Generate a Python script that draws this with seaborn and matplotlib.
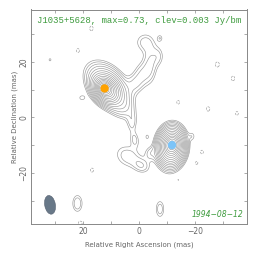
import numpy as np
import matplotlib
matplotlib.use('Agg')
import matplotlib.pyplot as plt
from matplotlib.patches import Ellipse
import seaborn as sns

# source model: gaussian components
# x, y in mas (east = +x), peak in Jy/beam, major/minor sigma in mas, PA in deg (N through E)
comp_x = [12.3, 11.8, 11.0, 6.0,
          1.5, -1.0, -4.0, -2.0, -7.5, -7.0,
          2.5, 1.5, 4.0, -1.0, -4.0,
          -11.8, -11.6, -11.3]
comp_y = [10.4, 10.0, 11.0, 4.0,
          12.0, 15.5, 19.0, 27.0, 28.5, 22.0,
          -2.0, -8.0, -14.0, -17.5, -13.0,
          -10.0, -10.4, -11.0]
comp_flux = [0.42, 0.20, 0.035, 0.006,
             0.0050, 0.0052, 0.0060, 0.0048, 0.0038, 0.0040,
             0.0045, 0.0045, 0.0055, 0.0052, 0.0045,
             0.36, 0.18, 0.028]
comp_maj = [1.3, 2.5, 5.0, 3.5,
            2.5, 3.0, 4.5, 2.5, 1.0, 2.5,
            2.5, 2.0, 3.5, 2.2, 1.8,
            1.5, 3.0, 4.2]
comp_min = [1.1, 1.9, 3.2, 2.5,
            2.0, 2.0, 1.8, 2.5, 0.8, 1.5,
            1.3, 1.2, 2.8, 1.8, 1.4,
            1.2, 2.2, 2.7]
comp_pa = [40, 40, 40, 40,
           0, 0, 0, 0, 0, 0,
           0, 10, 60, 60, 0,
           -10, -5, -5]

# small noise patches (negative -> dashed, positive -> solid)
noise_x = [21.8, 17.0, -28.0, -33.6, -14.0, -24.7, -35.0, -22.5, -20.6, 16.8, -14.0, 21.0,
           31.8, 20.4, -19.0, 22.0, -7.5, -2.9]
noise_y = [24.0, 32.0, 19.0, 14.0, 5.4, 3.0, 1.4, -12.5, -16.4, -19.0, -22.5, -38.0,
           20.7, 7.0, -6.8, -31.0, -33.0, -7.0]
noise_flux = [-0.0036, -0.0036, -0.0037, -0.0036, -0.0035, -0.0036, -0.0035, -0.0035, -0.0035,
              -0.0035, -0.0034, -0.0036, 0.0033, 0.0036, 0.0034, 0.0060, 0.0055, 0.0034]
noise_sx = [1.0, 1.0, 1.1, 1.0, 0.9, 1.0, 0.9, 0.9, 0.8, 1.0, 0.8, 1.2,
            0.8, 1.1, 0.9, 1.4, 1.2, 0.7]
noise_sy = [1.3, 1.4, 1.4, 1.4, 1.2, 1.3, 1.2, 1.2, 1.0, 1.3, 1.0, 1.2,
            0.9, 0.9, 1.2, 2.4, 2.4, 1.0]

clev = 0.003
level_steps = [-1, 1, 1.41, 2, 2.83, 4, 5.66, 8, 11.3, 16, 22.6, 32, 45.3, 64, 90.5, 128, 181]

core_x = [12.3, -11.8]
core_y = [10.4, -10.0]
core_colors = ['#ffa200', '#7cc4f8']

beam_x, beam_y = 31.8, -31.5
beam_w, beam_h, beam_ang = 3.8, 6.8, -10

title = 'J1035+5628, max=0.73, clev=0.003 Jy/bm'
date = '1994\u221208\u221212'

sns.set_style('ticks')

grid = np.linspace(-40, 40, 401)
X, Y = np.meshgrid(grid, grid)
Z = np.zeros_like(X)
for x0, y0, f, a, b, pa in zip(comp_x, comp_y, comp_flux, comp_maj, comp_min, comp_pa):
    t = np.deg2rad(pa)
    dx, dy = X - x0, Y - y0
    u = dx * np.sin(t) + dy * np.cos(t)
    v = dx * np.cos(t) - dy * np.sin(t)
    Z += f * np.exp(-0.5 * ((u / a) ** 2 + (v / b) ** 2))
for x0, y0, f, sx, sy in zip(noise_x, noise_y, noise_flux, noise_sx, noise_sy):
    Z += f * np.exp(-0.5 * (((X - x0) / sx) ** 2 + ((Y - y0) / sy) ** 2))

levels = [clev * s for s in level_steps]

fig = plt.figure(figsize=(2.64, 2.62), dpi=100)
ax = fig.add_axes([31 / 264, 38 / 262, 216 / 264, 214.5 / 262])

ax.contour(X, Y, Z, levels=[levels[0]], colors='#999999', linewidths=0.45, linestyles='dashed')
ax.contour(X, Y, Z, levels=levels[1:], colors='#999999', linewidths=0.45, linestyles='solid')

sns.scatterplot(x=core_x, y=core_y, hue=[0, 1], palette=core_colors, s=36,
                edgecolor='none', legend=False, ax=ax, zorder=5)

ax.add_patch(Ellipse((beam_x, beam_y), beam_w, beam_h, angle=beam_ang,
                     facecolor='#687888', edgecolor='#556070', lw=0.4, zorder=4))

ax.set_xlim(38.6, -38.6)
ax.set_ylim(-38.4, 38.8)
ax.set_xticks([20, 0, -20])
ax.set_yticks([-20, 0, 20])
ax.set_xticks([30, 10, -10, -30], minor=True)
ax.set_yticks([-30, -10, 10, 30], minor=True)
ax.set_xticklabels(['20', '0', '\u221220'])
ax.set_yticklabels(['\u221220', '0', '20'], rotation=90, va='center')
for which in ('major', 'minor'):
    ax.tick_params(which=which, direction='in', length=2, width=0.5, color='#888888',
                   top=True, right=True, labelsize=5.5, labelcolor='#666666', pad=2)
for sp in ax.spines.values():
    sp.set_color('#888888')
    sp.set_linewidth(0.7)

ax.set_xlabel('Relative Right Ascension (mas)', fontsize=5, color='#666666', labelpad=4)
ax.set_ylabel('Relative Declination (mas)', fontsize=5, color='#666666', labelpad=1)

ax.text(0.5, 0.947, title, transform=ax.transAxes, ha='center', va='center',
        family='Liberation Mono', fontsize=6.4, color='#3c9a3c')
ax.text(0.985, 0.045, date, transform=ax.transAxes, ha='right', va='center',
        style='italic', fontsize=5.5, color='#3c9a3c')

fig.savefig('out.png', dpi=100, facecolor='white')
